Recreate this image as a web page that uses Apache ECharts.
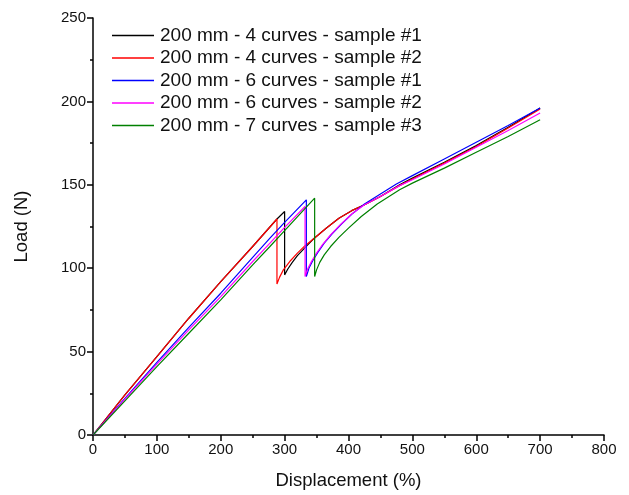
<!DOCTYPE html>
<html><head><meta charset="utf-8">
<script src="https://cdn.jsdelivr.net/npm/echarts@6/dist/echarts.min.js"></script>
<style>html,body{margin:0;padding:0;background:#fff}#c{width:629px;height:495px}</style>
</head><body><div id="c"></div>
<script>
const seriesNames = [
  '200 mm - 4 curves - sample #1',
  '200 mm - 4 curves - sample #2',
  '200 mm - 6 curves - sample #1',
  '200 mm - 6 curves - sample #2',
  '200 mm - 7 curves - sample #3'
];
const seriesColors = ['#000000', '#ff0000', '#0000ff', '#ff00ff', '#008000'];
const xTicks = [0, 100, 200, 300, 400, 500, 600, 700, 800];
const yTicks = [0, 50, 100, 150, 200, 250];

const curve4s1 = [[0,0],[50,24],[100,47],[150,70],[200,92],[250,113],[288,129.5],[300,134],
  [300,96],[305,99.5],[312,103.5],[320,107.5],[335,113.5],[345,117.5],[365,124],[385,130],[405,134.5],
  [425,138],[450,143],[480,150],[500,154],[550,163.5],[600,173.5],[650,184.5],[700,196]];
const curve4s2 = [[0,0],[50,24],[100,47],[150,70],[200,92],[250,113],[288,129.5],
  [288,90.5],[292,94.5],[298,99],[308,104],[320,109],[332,113.5],[345,117.5],[365,124],[385,130],[405,134.5],
  [425,138],[450,143],[480,149.5],[500,153.5],[550,163],[600,173],[650,184],[700,195.5]];
const curve6s1 = [[0,0],[50,22],[100,43.5],[150,64.5],[200,85],[250,106.5],[277,118],[300,127.5],[334,141],
  [334,95],[338,100],[344,104.5],[352,109.5],[362,115],[374,120.5],[389,126.5],[407,133],[425,138.5],
  [450,144.5],[475,150.5],[500,155.5],[550,165.5],[600,175.5],[650,185.5],[700,196]];
const curve6s2 = [[0,0],[50,21.5],[100,42.5],[150,63],[200,83],[250,104],[277,115],[300,124.5],[332,137],
  [332,95],[336,99.5],[342,104],[350,109],[360,114.5],[372,120],[387,126],[405,132.5],[425,138],
  [450,143],[480,149.5],[500,153],[550,162.5],[600,172.5],[650,182.5],[700,193]];
const curve7s3 = [[0,0],[50,20.5],[100,41],[150,61],[200,81],[250,102],[277,113],[300,122.5],[347,142],
  [347,95],[350,99],[355,103.5],[362,108],[372,113],[385,118.5],[400,124],[420,131],[445,138.5],
  [480,147],[500,151],[550,160],[600,169.5],[650,179],[700,189]];
const allCurves = [curve4s1, curve4s2, curve6s1, curve6s2, curve7s3];

const chart = echarts.init(document.getElementById('c'));
const font = 'Liberation Sans, Arial, sans-serif';
chart.setOption({
  animation: false,
  backgroundColor: '#fff',
  textStyle: {fontFamily: font},
  grid: {left: 93, right: 25, top: 18, bottom: 60, containLabel: false},
  legend: {
    orient: 'vertical', left: 112, top: 26,
    itemWidth: 42, itemHeight: 12, itemGap: 3.5, padding: 0,
    textStyle: {fontSize: 19, color: '#111', fontFamily: font, padding: [0,0,0,1]},
    data: seriesNames.map(n => ({name: n, icon: 'path://M0,0L42,0L42,1.3L0,1.3Z'}))
  },
  xAxis: {
    type: 'value', min: xTicks[0], max: xTicks[xTicks.length-1], interval: 100,
    name: 'Displacement (%)', nameLocation: 'middle', nameGap: 36,
    nameTextStyle: {fontSize: 18.5, color: '#111', fontFamily: font},
    axisLine: {show: true, lineStyle: {color: '#000', width: 1.5}},
    axisTick: {show: true, length: 6, lineStyle: {color: '#000', width: 1.5}},
    minorTick: {show: true, splitNumber: 2, length: 3, lineStyle: {color: '#000', width: 1.5}},
    axisLabel: {fontSize: 15, color: '#111', margin: 7, fontFamily: font},
    splitLine: {show: false}
  },
  yAxis: {
    type: 'value', min: yTicks[0], max: yTicks[yTicks.length-1], interval: 50,
    name: 'Load (N)', nameLocation: 'middle', nameGap: 62,
    nameTextStyle: {fontSize: 18.5, color: '#111', fontFamily: font},
    axisLine: {show: true, lineStyle: {color: '#000', width: 1.5}},
    axisTick: {show: true, length: 6, lineStyle: {color: '#000', width: 1.5}},
    minorTick: {show: true, splitNumber: 2, length: 3, lineStyle: {color: '#000', width: 1.5}},
    axisLabel: {fontSize: 15, color: '#111', margin: 7, fontFamily: font},
    splitLine: {show: false}
  },
  series: allCurves.map((d, i) => ({
    name: seriesNames[i], type: 'line', data: d, symbol: 'none', showSymbol: false,
    smooth: false, color: seriesColors[i],
    lineStyle: {color: seriesColors[i], width: 1.2}
  }))
});
</script></body></html>
